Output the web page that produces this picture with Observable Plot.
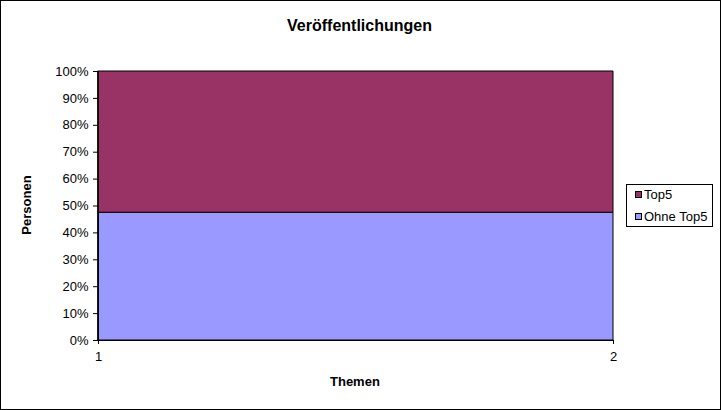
<!DOCTYPE html>
<html>
<head>
<meta charset="utf-8">
<script src="https://cdn.jsdelivr.net/npm/d3@7"></script>
<script src="https://cdn.jsdelivr.net/npm/@observablehq/plot@0.6"></script>
<style>
  html, body { margin: 0; padding: 0; background: #fff; }
  #wrap { position: relative; width: 721px; height: 410px; font-family: "Liberation Sans", Arial, sans-serif; }
  #wrap svg { position: absolute; left: 0; top: 0; }
  #border { position: absolute; left: 0; top: 0; width: 721px; height: 410px; box-sizing: border-box; border: 1px solid #000; pointer-events: none; }
  .t { position: absolute; white-space: nowrap; color: #000; }
  #legend { position: absolute; left: 626px; top: 184px; width: 87px; height: 43px; box-sizing: border-box; border: 1px solid #000; background: #fff; }
  .sw { position: absolute; width: 7px; height: 7px; box-sizing: border-box; border: 1px solid #000; }
  .lt { position: absolute; font-size: 13px; line-height: 13px; }
</style>
</head>
<body>
<div id="wrap"></div>
<script>
const themen = [1, 2];
const seriesNames = ["Ohne Top5", "Top5"];
const ohneTop5 = [47.5, 47.5];
const top5 = [52.5, 52.5];
const colors = ["#9999FF", "#993366"];
const yTicks = [0, 10, 20, 30, 40, 50, 60, 70, 80, 90, 100];
const xTicks = [1, 2];

const rows = [];
themen.forEach((t, i) => {
  rows.push({thema: t, series: "Ohne Top5", value: ohneTop5[i]});
  rows.push({thema: t, series: "Top5", value: top5[i]});
});

const chart = Plot.plot({
  width: 721,
  height: 410,
  marginLeft: 98,
  marginRight: 108,
  marginTop: 71,
  marginBottom: 70,
  style: {fontFamily: '"Liberation Sans", Arial, sans-serif', fontSize: "13px", background: "transparent", overflow: "visible"},
  x: {domain: [1, 2]},
  y: {domain: [0, 100]},
  color: {domain: seriesNames, range: colors},
  marks: [
    Plot.areaY(rows, {x: "thema", y: "value", fill: "series", order: seriesNames, stroke: "#000", strokeWidth: 1, fillOpacity: 1}),
    Plot.axisY({ticks: yTicks, tickSize: 5, tickPadding: 5, tickFormat: d => d + "%", label: null, stroke: "#000", strokeOpacity: 1, fontSize: 13, fill: "#000"}),
    Plot.axisX({ticks: xTicks, tickSize: 4, tickPadding: 7, tickFormat: d => String(d), label: null, stroke: "#000", strokeOpacity: 1, fontSize: 13, fill: "#000"}),
    Plot.ruleX([1], {stroke: "#000"}),
    Plot.ruleY([0], {stroke: "#000"})
  ]
});

const wrap = document.getElementById("wrap");
wrap.appendChild(chart);

function addText(txt, css) {
  const d = document.createElement("div");
  d.className = "t";
  d.textContent = txt;
  Object.assign(d.style, css);
  wrap.appendChild(d);
  return d;
}

addText("Veröffentlichungen", {left: "0px", width: "719px", textAlign: "center", top: "18px", fontSize: "16px", fontWeight: "bold", lineHeight: "16px"});
addText("Themen", {left: "330px", top: "375px", fontSize: "13px", fontWeight: "bold", lineHeight: "13px"});
addText("Personen", {left: "26px", top: "205px", fontSize: "13px", fontWeight: "bold", lineHeight: "13px", transform: "translate(-50%,-50%) rotate(-90deg)"});

const legend = document.createElement("div");
legend.id = "legend";
const legendItems = [["Top5", colors[1]], ["Ohne Top5", colors[0]]];
legendItems.forEach(([name, col], i) => {
  const sw = document.createElement("div");
  sw.className = "sw";
  sw.style.left = "8px";
  sw.style.top = (6 + i * 22) + "px";
  sw.style.background = col;
  legend.appendChild(sw);
  const lt = document.createElement("div");
  lt.className = "lt";
  lt.style.left = "17px";
  lt.style.top = (3 + i * 22) + "px";
  lt.textContent = name;
  legend.appendChild(lt);
});
wrap.appendChild(legend);

const border = document.createElement("div");
border.id = "border";
wrap.appendChild(border);
</script>
</body>
</html>
